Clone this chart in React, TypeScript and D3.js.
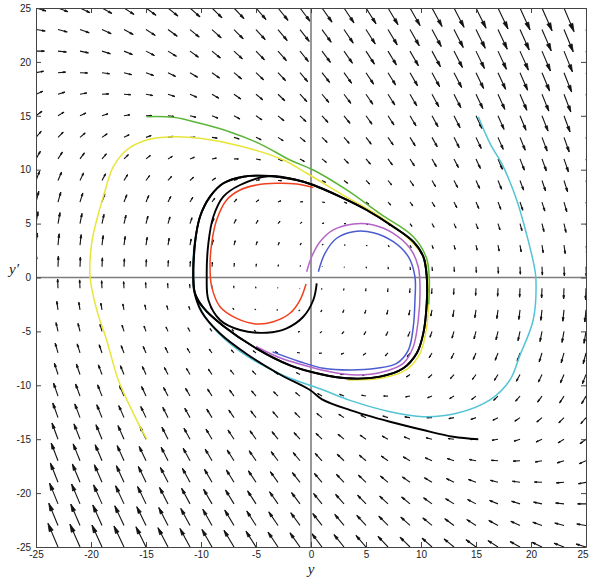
import React, { useRef, useEffect } from 'react';
import * as d3 from 'd3';

// phase-plane data ([y, y'] pairs)
const X_TICKS = [-25, -20, -15, -10, -5, 0, 5, 10, 15, 20, 25];
const Y_TICKS = [-25, -20, -15, -10, -5, 0, 5, 10, 15, 20, 25];
const GRID = d3.range(-25, 26, 2);

// direction field: y'' = -K y + g(y') y'
const K = 1.1;
const G0 = 1.8;
const B = 7;
const S = 6.65;

const CYCLE: [number, number][] = [
  [-10.7, 0.07], [-10.55, 3.17], [-10.09, 5.64], [-9.18, 7.5], [-7.97, 8.74],
  [-6.15, 9.35], [-3.73, 9.42], [-1.3, 9.04], [0.21, 8.58], [2.64, 7.5],
  [5.06, 6.26], [7.48, 4.71], [9.3, 3.32], [10.21, 1.93], [10.52, 0.07],
  [10.52, -2.39], [10.21, -5.18], [9.61, -7.03], [8.39, -8.42], [6.27, -9.2],
  [3.25, -9.35], [0.82, -8.95], [-1.91, -8.15], [-4.94, -6.6], [-7.97, -4.5],
  [-9.79, -2.8], [-10.55, -1.47],
];

const RED: [number, number][] = [
  [-0.45, -0.6], [-1, -2.09], [-1.91, -3.32], [-3.42, -4.1], [-4.94, -4.31],
  [-6.76, -3.79], [-8.27, -2.71], [-9.03, -0.85], [-9.18, 1.0], [-9.03, 3.17],
  [-8.58, 5.33], [-7.67, 7.19], [-6.45, 8.12], [-4.94, 8.58], [-3.12, 8.74],
  [-1.3, 8.67], [0.2, 8.35],
];

const PURPLE: [number, number][] = [
  [-0.39, 0.54], [0.06, 1.93], [0.82, 3.32], [2.03, 4.41], [3.85, 4.96],
  [5.67, 4.87], [7.48, 4.1], [9.0, 2.71], [9.75, 1.0], [9.91, -1.47],
  [9.75, -3.94], [9.3, -6.42], [8.39, -7.96], [6.58, -8.74], [4.15, -9.04],
  [1.73, -8.74], [-0.7, -8.12], [-2.82, -7.45], [-5.0, -6.4],
];

const BLUE: [number, number][] = [
  [0.67, 0.54], [1.27, 2.24], [2.33, 3.64], [3.85, 4.25], [5.67, 4.16],
  [7.48, 3.32], [8.85, 1.93], [9.45, 0.07], [9.45, -2.09], [9.3, -4.56],
  [8.85, -6.73], [7.79, -7.96], [5.97, -8.42], [3.55, -8.58], [1.12, -8.42],
  [-1.0, -7.81], [-3.5, -6.9],
];

const GREEN: [number, number][] = [
  [-14.94, 14.92], [-12.52, 14.86], [-10.09, 14.3], [-7.36, 13.5], [-4.64, 12.4],
  [-1.91, 10.9], [0.21, 9.97], [3.25, 8.12], [6.3, 5.9], [9.3, 3.78],
  [10.5, 1.8], [10.75, 0], [10.7, -2.5],
];

const YELLOW: [number, number][] = [
  [-14.94, -15.0], [-16.15, -12.6], [-17.52, -9.5], [-18.58, -5.8], [-19.48, -3.0],
  [-20.09, 0.07], [-19.94, 3.17], [-19.48, 5.33], [-18.88, 7.5], [-17.97, 10.28],
  [-16.76, 11.83], [-14.94, 12.76], [-12.52, 13.06], [-10.09, 12.91], [-6.45, 12.2],
  [-2.52, 10.9], [-0.39, 9.67], [3.0, 7.6], [6.27, 5.64], [9.0, 3.48],
  [10.36, 1.62], [10.67, -1.47], [10.52, -4.56], [9.91, -7.03], [8.6, -8.6],
  [6.3, -9.35], [3.3, -9.5],
];

const CYAN: [number, number][] = [
  [15.21, 14.92], [16.27, 12.45], [17.48, 10.28], [18.7, 7.19], [19.6, 4.0],
  [20.3, 1.0], [20.45, -0.2], [20.2, -3.94], [19.0, -7.2], [18.09, -9.5],
  [16.27, -11.36], [13.25, -12.6], [10.21, -12.91], [7.18, -12.45], [3.55, -11.4],
  [1.12, -10.44], [-2.82, -8.95], [-6.45, -6.85], [-8.88, -4.65], [-10.39, -2.09],
  [-10.7, 0.7], [-10.6, 3.2], [-10.1, 5.7],
];

const BLACK_OUTER_LEAD: [number, number][] = [
  [15.21, -15.0], [12.94, -14.77], [10.21, -14.15], [7.18, -13.38], [3.55, -12.3],
  [1.0, -11.3], [-0.09, -10.44], [-2.82, -9.0], [-5.85, -7.1], [-8.27, -5.2],
  [-9.94, -3.2], [-10.64, -1.16],
];

const BLACK_INNER_LEAD: [number, number][] = [
  [0.52, -0.54], [0.21, -2.09], [-0.7, -3.64], [-2.21, -4.71], [-4.03, -5.12],
  [-6.45, -4.87], [-8.27, -3.94], [-9.33, -2.09], [-9.48, 0.07], [-9.33, 3.17],
  [-8.88, 5.64], [-7.97, 7.5], [-6.45, 8.58],
];

const W = 589;
const H = 578;

const App: React.FC = () => {
  const svgRef = useRef<SVGSVGElement>(null);

  useEffect(() => {
    const svg = d3.select(svgRef.current);
    svg.selectAll('*').remove();

    const x = d3.scaleLinear().domain([-25, 25]).range([36, 586]);
    const y = d3.scaleLinear().domain([-25, 25]).range([547, 8]);

    svg.append('clipPath').attr('id', 'plotclip')
      .append('rect')
      .attr('x', 36).attr('y', 8)
      .attr('width', 550).attr('height', 539);

    // quiver field, autoscaled like matlab's quiver
    const g = (v: number) => G0 * (1 - (v / B) ** 2) / (1 + (v / S) ** 2);
    const pts: { px: number; pv: number; u: number; w: number }[] = [];
    GRID.forEach(py => GRID.forEach(pv => {
      pts.push({ px: py, pv, u: pv, w: -K * py + g(pv) * pv });
    }));
    const del = 2 * (50 / GRID.length) ** 2;
    const maxlen = d3.max(pts, p => Math.sqrt((p.u * p.u + p.w * p.w) / del)) || 1;
    const sc = 0.9 / maxlen;
    const alpha = 0.32, beta = 0.26;

    const ends = (p: typeof pts[0]) => {
      const u = p.u * sc, v = p.w * sc;
      const x1 = p.px + u, y1 = p.pv + v;
      return {
        x0: x(p.px), y0: y(p.pv), x1: x(x1), y1: y(y1),
        h1x: x(x1 - alpha * (u + beta * v)), h1y: y(y1 - alpha * (v - beta * u)),
        h2x: x(x1 - alpha * (u - beta * v)), h2y: y(y1 - alpha * (v + beta * u)),
      };
    };

    const quiver = svg.append('g').attr('clip-path', 'url(#plotclip)');
    quiver.selectAll('path.shaft')
      .data(pts)
      .enter().append('path')
      .attr('class', 'shaft')
      .attr('d', p => { const e = ends(p); return `M${e.x0},${e.y0}L${e.x1},${e.y1}`; })
      .attr('fill', 'none')
      .attr('stroke', '#111')
      .attr('stroke-width', 1.1);
    quiver.selectAll('path.head')
      .data(pts)
      .enter().append('path')
      .attr('class', 'head')
      .attr('d', p => { const e = ends(p); return `M${e.h1x},${e.h1y}L${e.x1},${e.y1}L${e.h2x},${e.h2y}Z`; })
      .attr('fill', '#111')
      .attr('stroke', '#111')
      .attr('stroke-width', 0.8)
      .attr('stroke-linejoin', 'round');

    // zero lines
    svg.append('line')
      .attr('x1', x(0)).attr('x2', x(0)).attr('y1', y(-25)).attr('y2', y(25))
      .attr('stroke', '#7d7d7d').attr('stroke-width', 1.6);
    svg.append('line')
      .attr('x1', x(-25)).attr('x2', x(25)).attr('y1', y(0)).attr('y2', y(0))
      .attr('stroke', '#7d7d7d').attr('stroke-width', 1.6);

    // trajectories
    const line = d3.line<[number, number]>()
      .x(d => x(d[0]))
      .y(d => y(d[1]))
      .curve(d3.curveCatmullRom.alpha(0.5));

    const traj = svg.append('g').attr('clip-path', 'url(#plotclip)');
    const curves: { data: [number, number][]; color: string; width: number }[] = [
      { data: CYAN, color: '#53c3d6', width: 1.5 },
      { data: YELLOW, color: '#e8e53a', width: 1.5 },
      { data: GREEN, color: '#5cb536', width: 1.5 },
      { data: PURPLE, color: '#b463c8', width: 1.5 },
      { data: BLUE, color: '#4b5bd0', width: 1.5 },
      { data: RED, color: '#f0401e', width: 1.5 },
      { data: [...BLACK_OUTER_LEAD, ...CYCLE, CYCLE[0], CYCLE[1]], color: '#000', width: 1.9 },
      { data: [...BLACK_INNER_LEAD, ...CYCLE.slice(6), ...CYCLE.slice(0, 8)], color: '#000', width: 1.9 },
    ];
    curves.forEach(c => {
      traj.append('path')
        .attr('d', line(c.data))
        .attr('fill', 'none')
        .attr('stroke', c.color)
        .attr('stroke-width', c.width)
        .attr('stroke-linejoin', 'round');
    });

    // axes box with inward ticks
    const fmt = (d: d3.NumberValue) => String(d);
    const styleAxis = (sel: d3.Selection<SVGGElement, unknown, null, undefined>) => {
      sel.selectAll('.domain').attr('stroke', '#444').attr('stroke-width', 1);
      sel.selectAll('.tick line').attr('stroke', '#444');
      sel.selectAll('text')
        .attr('fill', '#222')
        .style('font-family', '"Liberation Sans", Arial, sans-serif')
        .style('font-size', '10px');
    };

    const xAxis = svg.append('g')
      .attr('transform', `translate(0,${y(-25)})`)
      .call(d3.axisBottom(x).tickValues(X_TICKS).tickSize(-5).tickSizeOuter(0).tickPadding(4).tickFormat(fmt))
      .call(styleAxis);
    // last label sits at the window edge; pull it in so it stays whole
    xAxis.selectAll<SVGTextElement, number>('.tick text')
      .filter(d => d === 25)
      .attr('text-anchor', 'end')
      .attr('dx', 2);

    svg.append('g')
      .attr('transform', `translate(0,${y(25)})`)
      .call(d3.axisTop(x).tickValues(X_TICKS).tickSize(-5).tickSizeOuter(0).tickFormat(() => ''))
      .call(styleAxis);
    svg.append('g')
      .attr('transform', `translate(${x(-25)},0)`)
      .call(d3.axisLeft(y).tickValues(Y_TICKS).tickSize(-5).tickSizeOuter(0).tickPadding(5).tickFormat(fmt))
      .call(styleAxis);
    svg.append('g')
      .attr('transform', `translate(${x(25)},0)`)
      .call(d3.axisRight(y).tickValues(Y_TICKS).tickSize(-5).tickSizeOuter(0).tickFormat(() => ''))
      .call(styleAxis);

    // axis labels
    svg.append('text')
      .attr('x', x(0))
      .attr('y', 574)
      .attr('text-anchor', 'middle')
      .style('font-family', '"Liberation Serif", "Times New Roman", serif')
      .style('font-style', 'italic')
      .style('font-size', '15px')
      .attr('fill', '#222')
      .text('y');
    svg.append('text')
      .attr('x', 14)
      .attr('y', 274)
      .attr('text-anchor', 'middle')
      .style('font-family', '"Liberation Serif", "Times New Roman", serif')
      .style('font-style', 'italic')
      .style('font-size', '15px')
      .attr('fill', '#222')
      .text('y\u2032');
  }, []);

  return (
    <div>
      <style>{`body{margin:0;background:#fff}`}</style>
      <svg ref={svgRef} width={W} height={H} style={{ display: 'block' }} />
    </div>
  );
};

export default App;
